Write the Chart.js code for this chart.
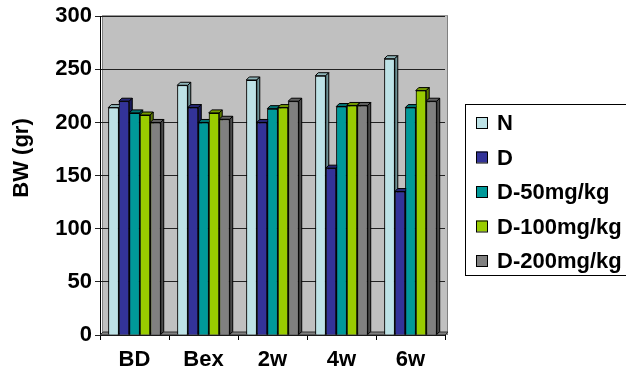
<!DOCTYPE html>
<html>
<head>
<meta charset="utf-8">
<script src="https://cdn.jsdelivr.net/npm/chart.js@4/dist/chart.umd.min.js"></script>
<style>
  html, body { margin:0; padding:0; background:#fff; }
  #wrap { width:626px; height:376px; position:relative; }
</style>
</head>
<body>
<div id="wrap"><canvas id="c" width="626" height="376"></canvas></div>
<script>
// categories and series (body weight, gr)
const periods = ['BD', 'Bex', '2w', '4w', '6w'];
const groupNames = ['N', 'D', 'D-50mg/kg', 'D-100mg/kg', 'D-200mg/kg'];
const valN    = [214, 235, 240, 244, 260];
const valD    = [220, 214, 200, 157, 135];
const valD50  = [209, 200, 213, 215, 214];
const valD100 = [207, 209, 214, 216, 230];
const valD200 = [200, 203, 220, 216, 220];
const yTicks  = [0, 50, 100, 150, 200, 250, 300];

const fills = ['#BDE2E6', '#333399', '#009999', '#99CC00', '#808080'];
const sides = ['#6E9296', '#1A1A5C', '#005C5C', '#5C7A00', '#4A4A4A'];
const tops  = ['#8FB5B9', '#262673', '#007373', '#739900', '#606060'];

const FAMILY = '"Liberation Sans", Arial, sans-serif';
const FONT = 'bold 22px ' + FAMILY;
const DEPTH = 3;

const series = [valN, valD, valD50, valD100, valD200];

const wallPlugin = {
  id: 'wall',
  beforeDraw(chart) {
    const { ctx, chartArea: a } = chart;
    ctx.save();
    ctx.fillStyle = '#C0C0C0';
    ctx.fillRect(a.left + 2, a.top, a.right - a.left, a.bottom - a.top);
    ctx.strokeStyle = '#808080';
    ctx.lineWidth = 1;
    ctx.strokeRect(a.left + 2.5, a.top - 0.5, a.right - a.left, a.bottom - a.top);
    ctx.restore();
  },
  beforeDatasetsDraw(chart) {
    // floor strip
    const { ctx, chartArea: a } = chart;
    ctx.save();
    ctx.fillStyle = '#808080';
    ctx.strokeStyle = '#333';
    ctx.beginPath();
    ctx.moveTo(a.left, a.bottom);
    ctx.lineTo(a.left + DEPTH, a.bottom - DEPTH);
    ctx.lineTo(a.right + DEPTH, a.bottom - DEPTH);
    ctx.lineTo(a.right, a.bottom);
    ctx.closePath();
    ctx.fill();
    ctx.stroke();
    ctx.restore();
  },
  afterDatasetsDraw(chart) {
    const ctx = chart.ctx;
    const area = chart.chartArea;
    ctx.save();
    ctx.lineWidth = 1;
    ctx.strokeStyle = '#000';
    chart.data.datasets.forEach((ds, i) => {
      const meta = chart.getDatasetMeta(i);
      meta.data.forEach(bar => {
        const p = bar.getProps(['x', 'y', 'base', 'width'], true);
        const l = p.x - p.width / 2, r = p.x + p.width / 2;
        ctx.fillStyle = tops[i];
        ctx.beginPath();
        ctx.moveTo(l, p.y); ctx.lineTo(l + DEPTH, p.y - DEPTH);
        ctx.lineTo(r + DEPTH, p.y - DEPTH); ctx.lineTo(r, p.y);
        ctx.closePath(); ctx.fill(); ctx.stroke();
        ctx.fillStyle = sides[i];
        ctx.beginPath();
        ctx.moveTo(r, p.y); ctx.lineTo(r + DEPTH, p.y - DEPTH);
        ctx.lineTo(r + DEPTH, p.base - DEPTH); ctx.lineTo(r, p.base);
        ctx.closePath(); ctx.fill(); ctx.stroke();
        bar.draw(ctx, area);
      });
    });
    ctx.restore();
  },
  afterDraw(chart) {
    const ctx = chart.ctx;
    ctx.save();
    // y axis title
    ctx.font = FONT;
    ctx.fillStyle = '#000';
    ctx.textAlign = 'center';
    ctx.textBaseline = 'middle';
    ctx.translate(22, 158);
    ctx.rotate(-Math.PI / 2);
    ctx.fillText('BW (gr)', 0, 0);
    ctx.restore();

    // legend box
    ctx.save();
    ctx.strokeStyle = '#000';
    ctx.lineWidth = 1;
    ctx.strokeRect(465.5, 104.5, 170, 171);
    ctx.font = FONT;
    ctx.textBaseline = 'middle';
    ctx.textAlign = 'left';
    chart.data.datasets.forEach((ds, i) => {
      const y = 123 + i * 34.5;
      ctx.fillStyle = ds.backgroundColor;
      ctx.fillRect(476, y - 6, 11, 11);
      ctx.strokeRect(476.5, y - 5.5, 11, 11);
      ctx.fillStyle = '#000';
      ctx.fillText(ds.label, 497, y + 1);
    });
    ctx.restore();
  }
};

new Chart(document.getElementById('c'), {
  type: 'bar',
  data: {
    labels: periods,
    datasets: groupNames.map((name, i) => ({
      label: name,
      data: series[i],
      backgroundColor: fills[i],
      borderColor: '#000',
      borderWidth: 1,
      categoryPercentage: 0.76,
      barPercentage: 1.0
    }))
  },
  options: {
    responsive: false,
    animation: false,
    layout: { padding: { top: 15, right: 181, left: 0, bottom: 0 } },
    plugins: { legend: { display: false }, tooltip: { enabled: false } },
    scales: {
      x: {
        afterFit(s) { s.height = 41; },
        grid: { display: true, drawOnChartArea: false, drawTicks: true, tickLength: 5, color: '#000' },
        border: { color: '#000', width: 1 },
        ticks: { color: '#000', font: { family: FAMILY, size: 22, weight: 'bold' }, padding: 7, maxRotation: 0 }
      },
      y: {
        min: 0, max: 300,
        afterFit(s) { s.width = 100; },
        afterBuildTicks(s) { s.ticks = yTicks.map(v => ({ value: v })); },
        grid: { color: '#222', tickLength: 5, drawTicks: true },
        border: { color: '#000', width: 1 },
        ticks: { color: '#000', font: { family: FAMILY, size: 22, weight: 'bold' }, padding: 3 }
      }
    }
  },
  plugins: [wallPlugin]
});
</script>
</body>
</html>
